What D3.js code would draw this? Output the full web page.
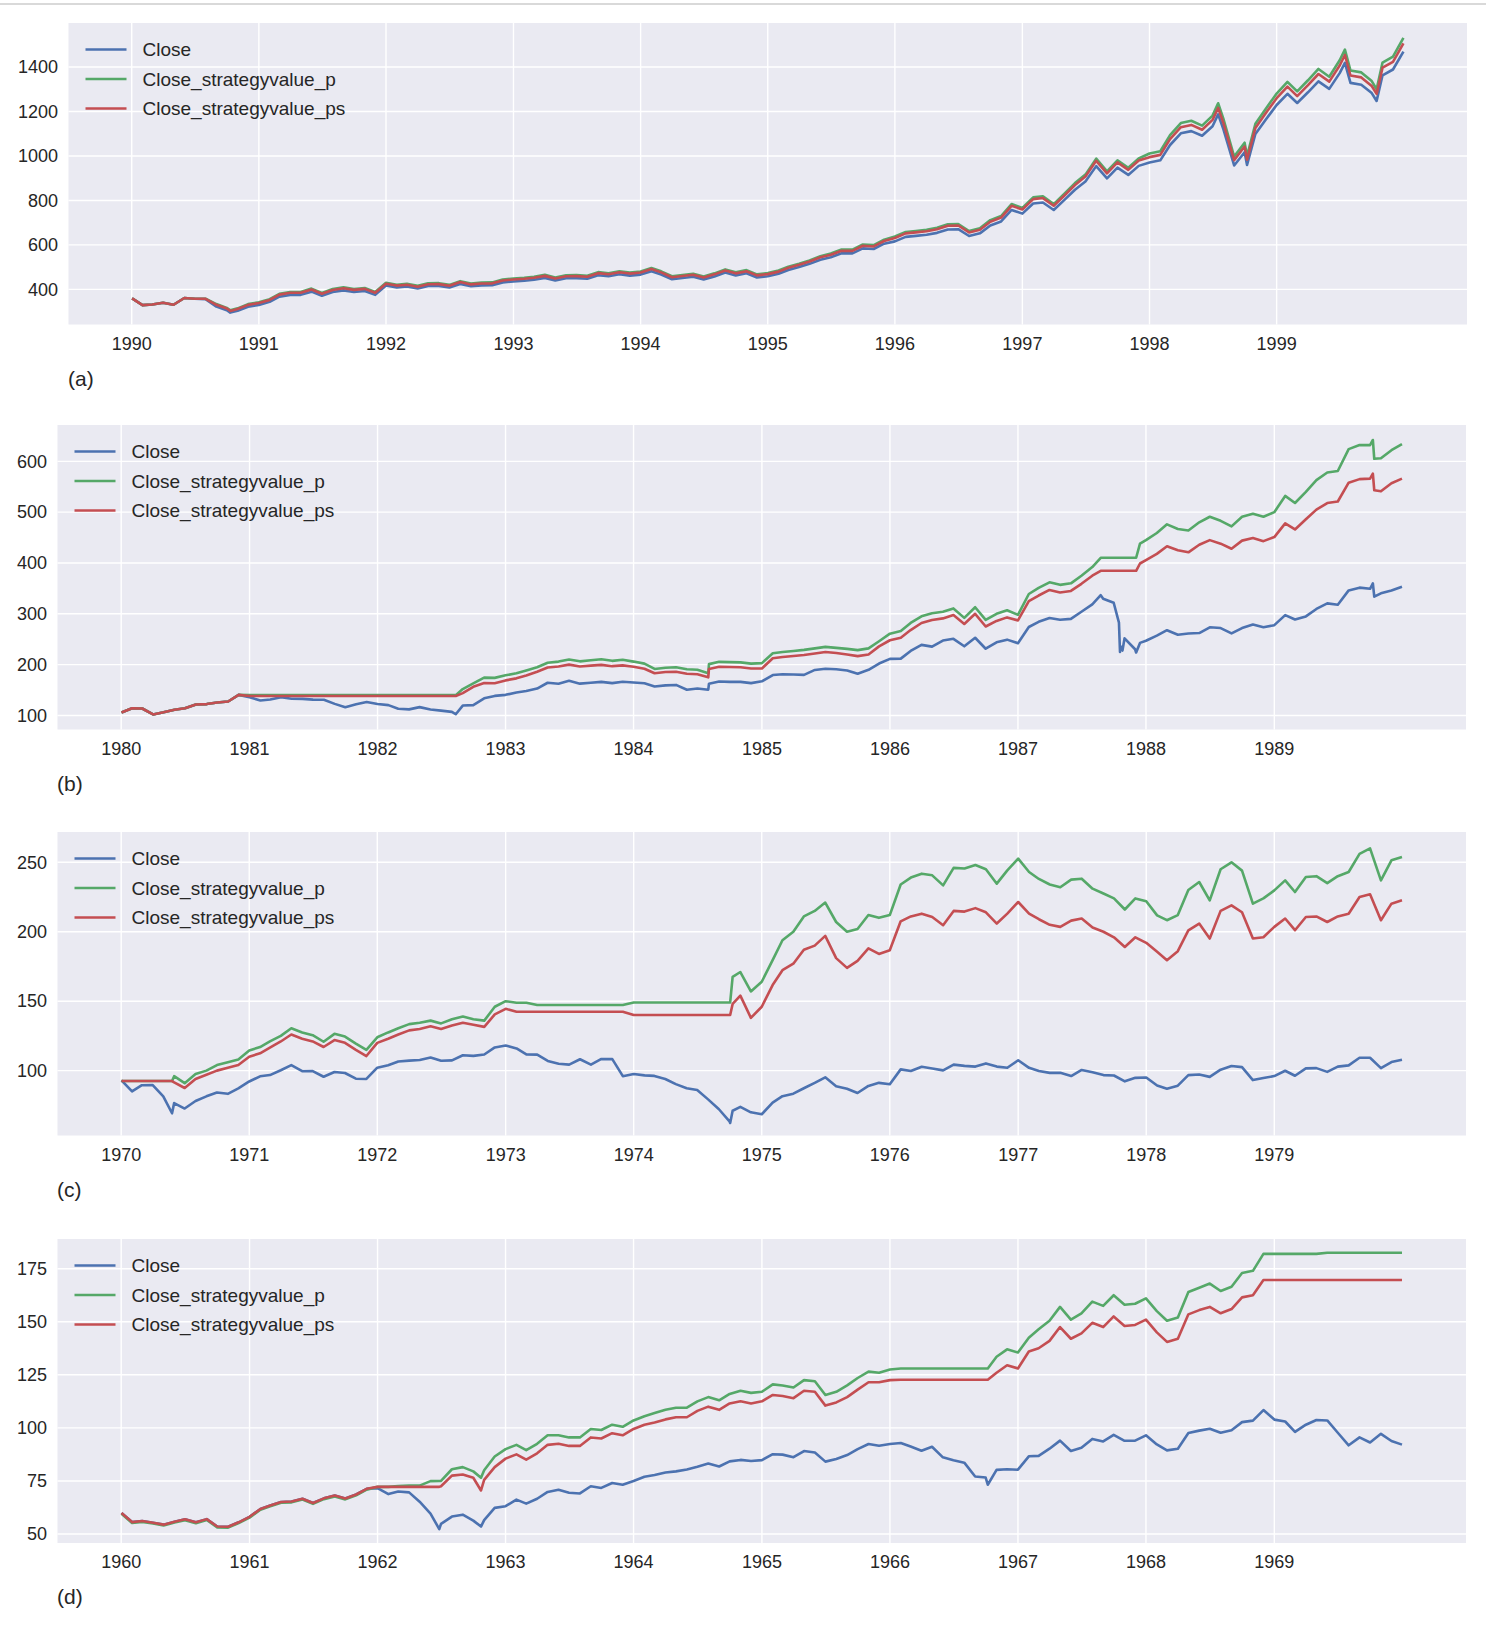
<!DOCTYPE html>
<html><head><meta charset="utf-8">
<script src="https://cdn.jsdelivr.net/npm/d3@7"></script>
<style>
body{margin:0;background:#fff}
svg{display:block}
text{font-family:"Liberation Sans",Arial,Helvetica,sans-serif;fill:#262626}
</style>
</head><body>
<svg id="chart" width="1486" height="1628"></svg>
<script>
// ---------------- DATA ----------------
const seriesNames = ["Close", "Close_strategyvalue_p", "Close_strategyvalue_ps"];
const seriesColors = ["#4C72B0", "#55A868", "#C44E52"];

// Panel (a) 1990-1999, monthly values (month starts) + end of period
const aClose = [
359.7,329.1,331.9,339.9,330.8,361.2,358.0,356.2,322.6,306.1,304.0,322.2,
330.2,343.9,367.1,375.2,375.3,389.8,371.2,387.8,395.4,387.9,392.5,375.2,
417.1,408.8,412.7,403.7,415.0,415.4,408.1,424.2,414.0,417.8,418.7,431.4,
435.7,438.8,443.4,451.7,440.2,450.2,450.5,448.1,463.6,458.9,467.8,461.8,
466.5,481.6,467.1,445.8,450.9,456.5,444.3,458.3,475.5,462.7,472.4,453.7,
459.3,470.4,487.4,500.7,514.7,533.4,544.8,562.1,561.9,584.4,581.5,605.4,
615.9,636.0,640.4,645.5,654.2,669.1,670.6,640.0,652.0,687.3,705.3,757.0,
740.7,786.2,790.8,757.1,801.3,848.3,885.1,954.3,899.5,947.3,914.6,955.4,
970.4,980.3,1049.3,1101.8,1111.8,1090.8,1133.8,1120.7,957.3,1017.0,1098.7,1163.6,
1229.2,1279.6,1238.3,1286.4,1335.2,1301.8,1372.7,1328.7,1320.4,1282.7,1362.9,1388.9,
1469.3];
const aP = [
359.7,329.1,331.9,339.9,330.8,361.2,358.0,358.0,333.9,316.8,314.6,333.5,
341.8,355.9,379.9,388.3,388.4,403.4,384.2,401.4,409.2,401.5,406.2,388.3,
429.6,421.1,425.1,415.8,427.5,427.9,420.3,436.9,426.4,430.3,431.3,444.3,
448.8,452.0,456.7,465.3,453.4,463.7,464.0,461.5,477.5,472.7,481.8,475.7,
480.5,496.0,481.1,459.2,464.4,470.2,457.6,472.0,489.8,476.6,486.6,467.3,
473.1,484.5,502.0,515.7,530.1,549.4,561.1,579.0,578.8,601.9,598.9,623.6,
637.5,658.3,662.8,668.1,677.1,692.5,694.1,662.4,674.8,711.4,730.0,783.5,
766.6,813.7,818.5,783.6,829.3,878.0,916.1,987.7,931.0,980.5,946.6,988.8,
1011.2,1021.5,1093.4,1148.1,1158.5,1136.6,1181.4,1167.8,997.5,1059.7,1144.8,1212.5,
1280.8,1333.4,1290.3,1340.4,1391.3,1356.5,1430.4,1384.5,1375.9,1336.6,1420.1,1447.2,
1531.0];
const aPS = [
359.7,329.1,331.9,339.9,330.8,361.2,358.0,357.5,330.7,313.8,311.6,330.3,
338.5,352.5,376.3,384.6,384.7,399.5,380.5,397.5,405.3,397.6,402.3,384.6,
425.4,417.0,421.0,411.8,423.3,423.7,416.3,432.7,422.3,426.2,427.1,440.0,
444.4,447.6,452.3,460.7,449.0,459.2,459.5,457.1,472.9,468.1,477.2,471.0,
475.8,491.2,476.4,454.7,459.9,465.6,453.2,467.5,485.0,472.0,481.8,462.8,
468.5,479.8,497.1,510.7,525.0,544.1,555.7,573.3,573.1,596.1,593.1,617.5,
631.3,651.9,656.4,661.6,670.6,685.8,687.4,656.0,668.3,704.5,722.9,775.9,
759.2,805.9,810.6,776.0,821.3,869.5,907.2,978.2,922.0,971.0,937.5,979.3,
994.7,1004.8,1075.5,1129.3,1139.6,1118.1,1162.1,1148.7,981.2,1042.4,1126.2,1192.7,
1259.9,1311.6,1269.3,1318.6,1368.6,1334.3,1407.0,1361.9,1353.4,1314.8,1397.0,1423.6,
1506.0];
const aExtra = [
["1990-10-11",295.5,306.0,303.0],
["1998-07-17",1186.8,1237.0,1216.0],
["1998-10-08",959.4,1000.0,983.0],
["1999-07-16",1418.8,1478.0,1454.0],
["1999-10-15",1247.4,1300.0,1279.0]];
const aYTicks = [400,600,800,1000,1200,1400];

// Panel (b) 1980-1989
const bClose = [
105.8,114.2,113.7,102.1,106.3,111.2,114.2,121.7,122.4,125.5,127.5,140.5,
135.8,129.6,131.3,136.0,132.8,132.6,131.2,130.9,122.8,116.2,121.9,126.4,
122.6,120.4,113.1,112.0,116.4,111.9,109.6,107.1,119.5,120.4,133.7,138.5,
140.6,145.3,148.1,153.0,164.4,162.4,168.1,162.6,164.4,166.1,163.6,166.4,
164.9,163.4,157.1,159.2,160.1,150.6,153.2,150.7,166.7,166.1,166.1,163.6,
167.2,179.6,181.2,180.7,179.8,189.6,191.9,190.9,188.6,182.1,189.8,202.2,
211.3,211.8,226.9,238.9,235.5,247.4,250.8,236.1,252.9,231.3,244.0,249.2,
242.2,274.1,284.2,291.7,288.4,290.1,304.0,318.7,329.8,321.8,251.8,230.3,
247.1,257.1,267.8,258.9,261.3,262.2,273.5,272.0,261.5,271.9,279.0,273.7,
277.7,297.5,288.9,294.9,309.6,320.5,318.0,346.1,351.5,349.2,340.4,346.0,
353.4];
const bP = [
105.8,114.2,113.7,102.1,106.3,111.2,114.2,121.7,122.4,125.5,127.5,140.5,
140.0,140.0,140.0,140.0,140.0,140.0,140.0,140.0,140.0,140.0,140.0,140.0,
140.0,140.0,140.0,140.0,140.0,140.0,140.0,140.0,152.0,163.0,174.5,174.0,
179.0,183.0,188.5,195.0,203.6,206.0,210.0,206.5,208.5,210.5,207.5,209.5,
206.0,202.0,191.5,194.0,195.0,191.0,190.0,183.0,205.5,205.0,204.5,202.0,
203.0,222.5,225.0,227.0,229.0,232.0,235.0,233.0,231.0,228.6,232.0,246.0,
261.0,266.0,282.0,295.0,301.0,304.0,310.6,292.0,313.0,288.0,300.0,307.0,
298.0,339.0,351.0,362.0,357.0,360.0,375.0,392.0,410.3,410.3,410.3,410.3,
445.0,459.0,476.0,467.0,464.0,480.0,491.0,483.0,472.0,491.0,497.0,491.0,
500.0,532.0,518.0,540.0,563.0,578.0,581.0,624.0,632.0,632.0,606.0,622.0,
634.0];
const bPS = [
105.8,114.2,113.7,102.1,106.3,111.2,114.2,121.7,122.4,125.5,127.5,140.5,
138.3,138.3,138.3,138.3,138.3,138.3,138.3,138.3,138.3,138.3,138.3,138.3,
138.3,138.3,138.3,138.3,138.3,138.3,138.3,138.3,144.0,156.4,164.0,163.5,
169.0,173.0,178.5,186.0,194.5,196.5,200.0,196.5,198.0,199.5,197.0,198.5,
196.0,192.0,183.0,185.5,186.0,182.0,181.0,175.0,195.8,195.5,195.0,192.5,
192.5,212.5,215.0,217.0,219.0,222.0,225.0,223.0,220.0,216.8,220.0,236.0,
248.0,253.0,268.0,282.0,288.0,291.0,297.5,280.0,300.0,275.0,286.0,293.0,
287.0,325.0,336.0,347.0,342.0,345.0,359.0,375.0,384.7,384.7,384.7,384.7,
405.7,418.0,433.0,425.0,421.0,436.0,445.0,438.0,428.0,444.0,449.0,443.0,
451.0,478.0,466.0,486.0,505.0,518.0,521.0,558.0,565.0,566.0,541.0,557.0,
566.0];
const bExtra = [
["1982-08-12",102.4,140.0,138.3],
["1984-08-03",162.4,201.0,191.5],
["1987-08-25",336.8,410.3,384.7],
["1987-10-16",282.7,410.3,384.7],
["1987-10-19",224.8,410.3,384.7],
["1987-10-20",236.8,410.3,384.7],
["1987-10-26",227.7,410.3,384.7],
["1987-12-04",223.9,410.3,384.7],
["1987-12-15",242.8,438.0,399.0],
["1989-10-09",359.8,642.0,576.0],
["1989-10-13",333.7,605.0,543.0]];
const bYTicks = [100,200,300,400,500,600];

// Panel (c) 1970-1979
const cClose = [
93.0,85.0,89.5,89.6,81.5,76.6,72.7,78.1,81.5,84.2,83.3,87.2,
92.2,95.9,96.8,100.3,104.0,99.6,99.7,95.6,99.0,98.3,94.2,94.0,
102.1,103.9,106.6,107.2,107.7,109.5,107.1,107.4,111.1,110.6,111.6,116.7,
118.1,116.0,111.7,111.5,107.0,105.0,104.3,108.2,104.3,108.4,108.3,96.0,
97.6,96.6,96.2,94.0,90.3,87.3,86.0,79.3,72.2,63.5,73.9,70.0,
68.6,77.0,81.6,83.4,87.3,91.2,95.2,88.8,86.9,83.9,89.0,91.2,
90.2,100.9,99.7,102.8,101.6,100.2,104.3,103.4,102.9,105.2,102.9,102.1,
107.5,102.0,99.8,98.4,98.4,96.1,100.5,98.9,96.8,96.5,92.3,94.8,
95.1,89.3,87.0,89.2,96.8,97.2,95.5,100.7,103.3,102.5,93.2,94.7,
96.1,99.9,96.3,101.6,101.8,99.1,102.9,103.8,109.3,109.3,101.8,106.2,
107.9];
const cP = [
92.5,92.5,92.5,92.5,92.5,96.0,91.0,97.5,100.0,104.0,106.0,108.0,
114.5,117.0,121.0,125.0,130.5,127.5,125.5,120.8,126.5,124.5,119.5,115.0,
124.0,127.5,130.5,133.5,134.5,136.0,134.0,137.0,139.0,137.0,136.0,146.0,
150.0,148.9,148.9,147.2,147.2,147.2,147.2,147.2,147.2,147.2,147.2,147.2,
149.1,149.1,149.1,149.1,149.1,149.1,149.1,149.1,149.1,149.1,171.0,157.0,
164.0,179.5,193.9,200.0,211.0,215.0,221.0,207.0,200.0,202.0,212.0,210.0,
212.0,234.0,239.0,241.8,240.6,233.4,246.0,245.5,248.0,245.0,234.6,244.2,
252.6,243.0,238.0,234.0,232.0,237.5,238.2,231.0,227.5,224.0,216.0,224.0,
222.0,211.8,208.3,212.0,230.0,235.8,222.6,245.0,250.0,244.0,220.2,224.0,
229.8,237.0,228.6,239.4,240.0,235.0,240.0,243.0,256.0,260.0,237.0,251.4,
253.8];
const cPS = [
92.5,92.5,92.5,92.5,92.5,91.5,87.5,94.0,97.0,100.0,102.0,104.0,
110.0,112.5,116.5,121.0,126.0,123.0,121.0,117.0,122.0,120.0,115.0,110.5,
120.0,123.0,126.0,129.0,130.0,132.0,130.0,132.5,134.5,133.0,131.5,140.5,
144.5,142.4,142.4,142.4,142.4,142.4,142.4,142.4,142.4,142.4,142.4,142.4,
140.0,140.0,140.0,140.0,140.0,140.0,140.0,140.0,140.0,140.0,154.0,138.0,
146.0,161.6,172.3,177.0,187.0,190.0,197.0,181.0,174.0,179.0,188.0,184.0,
186.7,207.5,211.0,213.0,210.6,204.7,215.0,214.5,217.0,214.0,205.9,213.0,
221.4,213.0,209.0,205.0,203.5,208.0,209.5,203.0,200.0,196.0,189.0,196.0,
192.0,185.5,179.5,186.0,201.0,205.9,195.1,215.0,219.0,214.0,195.1,196.0,
203.5,209.5,201.1,210.6,211.0,207.0,211.0,213.0,225.0,227.0,208.3,220.2,
222.6];
const cExtra = [
["1970-05-26",69.3,92.5,92.5],
["1974-10-03",62.3,149.1,140.0],
["1974-10-10",71.1,167.5,148.0]];
const cYTicks = [100,150,200,250];

// Panel (d) 1960-1969
const dClose = [
59.9,55.6,56.1,55.3,54.4,55.8,56.9,55.5,57.0,53.5,53.4,55.5,
58.1,61.8,63.4,65.1,65.3,66.6,64.6,66.8,68.1,66.7,68.6,71.3,
71.6,68.8,70.0,69.6,65.2,59.6,54.8,58.2,59.1,56.3,56.5,62.3,
63.1,66.2,64.3,66.6,69.8,70.8,69.4,69.1,72.5,71.7,74.0,73.2,
75.0,77.0,77.8,79.0,79.5,80.4,81.7,83.2,81.8,84.2,84.9,84.4,
84.8,87.6,87.4,86.2,89.1,88.4,84.1,85.3,87.2,90.0,92.4,91.6,
92.4,92.9,91.2,89.2,91.1,86.1,84.7,83.6,77.1,76.6,80.2,80.5,
80.3,86.6,86.8,90.2,94.0,89.1,90.6,94.8,93.6,96.7,93.9,94.0,
96.5,92.2,89.4,90.2,97.6,98.7,99.6,97.7,98.9,102.7,103.4,108.4,
103.9,103.0,98.1,101.5,103.7,103.5,97.7,91.8,95.5,93.1,97.2,93.8,
92.1];
const dP = [
59.5,55.2,55.7,54.9,54.0,55.4,56.5,55.1,56.6,53.1,53.0,55.1,
57.7,61.4,63.0,64.7,64.9,66.2,64.2,66.4,67.7,66.3,68.2,70.9,
72.2,72.2,72.6,72.8,72.8,74.9,75.0,80.5,81.5,79.5,80.0,86.5,
90.0,92.0,89.5,92.5,96.5,96.5,95.5,95.5,99.5,99.0,101.5,100.5,
103.5,105.5,107.0,108.5,109.5,109.5,112.5,114.5,113.0,116.0,117.5,116.5,
117.0,120.5,120.0,119.0,122.5,122.0,115.5,117.0,120.0,123.5,126.5,126.0,
127.5,128.0,128.0,128.0,128.0,128.0,128.0,128.0,128.0,128.0,133.5,137.0,
135.5,142.5,146.5,150.5,157.0,151.0,154.0,159.5,157.5,162.5,158.0,158.5,
161.0,155.0,150.5,152.0,164.0,166.0,168.0,164.5,166.5,173.0,174.0,182.0,
182.0,182.0,182.0,182.0,182.0,182.5,182.5,182.5,182.5,182.5,182.5,182.5,
182.5];
const dPS = [
59.9,55.6,56.1,55.3,54.4,55.8,56.9,55.5,57.0,53.5,53.4,55.5,
58.1,61.8,63.4,65.1,65.3,66.6,64.6,66.8,68.1,66.7,68.6,71.3,
72.2,72.2,72.2,72.2,72.2,72.2,72.5,77.5,78.0,76.5,75.5,81.5,
85.5,87.5,85.0,88.0,92.0,92.5,91.5,91.5,95.5,95.0,97.5,96.5,
99.5,101.5,102.5,104.0,105.0,105.0,108.0,110.0,108.5,111.5,112.5,111.5,
112.5,115.5,115.0,114.0,117.5,117.0,110.5,112.0,114.5,118.0,121.5,121.5,
122.5,122.7,122.7,122.7,122.7,122.7,122.7,122.7,122.7,122.7,126.0,129.5,
128.0,136.0,137.5,141.0,147.5,142.0,144.5,149.5,147.5,152.5,148.0,148.5,
151.0,145.0,140.5,142.0,153.5,155.5,157.0,154.0,156.0,161.5,162.5,169.7,
169.7,169.7,169.7,169.7,169.7,169.7,169.7,169.7,169.7,169.7,169.7,169.7,
169.7];
const dExtra = [
["1962-06-26",52.3,75.0,72.2],
["1962-10-23",53.5,76.5,70.5],
["1966-10-07",73.2,128.0,122.7]];
const dYTicks = [50,75,100,125,150,175];

// ---------------- LAYOUT ----------------
const panels = [
  {label:"(a)", startYear:1990, close:aClose, p:aP, ps:aPS, extra:aExtra, yTicks:aYTicks,
   yDomain:[242,1598], box:{left:68.5, top:23, right:1467, bottom:324.5}},
  {label:"(b)", startYear:1980, close:bClose, p:bP, ps:bPS, extra:bExtra, yTicks:bYTicks,
   yDomain:[72.4,671.5], box:{left:57.5, top:425, right:1466, bottom:729.5}},
  {label:"(c)", startYear:1970, close:cClose, p:cP, ps:cPS, extra:cExtra, yTicks:cYTicks,
   yDomain:[53.3,271.8], box:{left:57.5, top:832, right:1466, bottom:1135.5}},
  {label:"(d)", startYear:1960, close:dClose, p:dP, ps:dPS, extra:dExtra, yTicks:dYTicks,
   yDomain:[45.75,189], box:{left:57.5, top:1239, right:1466, bottom:1543}}
];

const svg = d3.select("#chart");
svg.append("rect").attr("x",0).attr("y",3).attr("width",1486).attr("height",2).attr("fill","#d9d9d9");

const parse = d3.timeParse("%Y-%m-%d");

panels.forEach(pn => {
  const b = pn.box;
  const n = pn.close.length;
  const rows = [];
  for (let i = 0; i < n; i++) {
    let dt = d3.timeMonth.offset(new Date(pn.startYear, 0, 1), i);
    if (i === 0) dt = new Date(pn.startYear, 0, 2);
    if (i === n - 1) dt = new Date(pn.startYear + 9, 11, 31);
    rows.push({date: dt, v: [pn.close[i], pn.p[i], pn.ps[i]]});
  }
  pn.extra.forEach(e => rows.push({date: parse(e[0]), v: [e[1], e[2], e[3]]}));
  rows.sort((a, c) => a.date - c.date);

  const t0 = rows[0].date, t1 = rows[rows.length - 1].date;
  const span = t1 - t0;
  const x = d3.scaleTime()
    .domain([new Date(+t0 - 0.05 * span), new Date(+t1 + 0.05 * span)])
    .range([b.left, b.right]);
  const y = d3.scaleLinear().domain(pn.yDomain).range([b.bottom, b.top]);

  const g = svg.append("g");
  g.append("rect").attr("x", b.left).attr("y", b.top)
    .attr("width", b.right - b.left).attr("height", b.bottom - b.top)
    .attr("fill", "#EAEAF2");

  const years = d3.range(pn.startYear, pn.startYear + 10).map(yr => new Date(yr, 0, 1));

  // grid
  g.selectAll(".yg").data(pn.yTicks).join("line")
    .attr("x1", b.left).attr("x2", b.right)
    .attr("y1", d => y(d)).attr("y2", d => y(d))
    .attr("stroke", "#fff").attr("stroke-width", 1.4);
  g.selectAll(".xg").data(years).join("line")
    .attr("x1", d => x(d)).attr("x2", d => x(d))
    .attr("y1", b.top).attr("y2", b.bottom)
    .attr("stroke", "#fff").attr("stroke-width", 1.4);

  // lines
  [0, 1, 2].forEach(k => {
    const line = d3.line().x(d => x(d.date)).y(d => y(d.v[k]));
    g.append("path").datum(rows)
      .attr("d", line)
      .attr("fill", "none")
      .attr("stroke", seriesColors[k])
      .attr("stroke-width", 2.6)
      .attr("stroke-linejoin", "round")
      .attr("stroke-linecap", "butt");
  });

  // y tick labels
  g.selectAll(".yl").data(pn.yTicks).join("text")
    .attr("x", b.left - 10.5).attr("y", d => y(d))
    .attr("dy", "0.35em").attr("text-anchor", "end")
    .attr("font-size", 18).text(d => d);
  // x tick labels
  g.selectAll(".xl").data(years).join("text")
    .attr("x", d => x(d)).attr("y", b.bottom + 19)
    .attr("dy", "0.35em").attr("text-anchor", "middle")
    .attr("font-size", 18).text(d => d.getFullYear());

  // legend
  seriesNames.forEach((nm, k) => {
    const ly = b.top + 26.5 + k * 29.5;
    g.append("line").attr("x1", b.left + 17).attr("x2", b.left + 58)
      .attr("y1", ly).attr("y2", ly)
      .attr("stroke", seriesColors[k]).attr("stroke-width", 2.5);
    g.append("text").attr("x", b.left + 74).attr("y", ly)
      .attr("dy", "0.35em").attr("font-size", 19).text(nm);
  });

  // panel label
  g.append("text").attr("x", b.left - 0.5).attr("y", b.bottom + 54)
    .attr("dy", "0.35em").attr("font-size", 21).text(pn.label);
});
</script>
</body></html>
